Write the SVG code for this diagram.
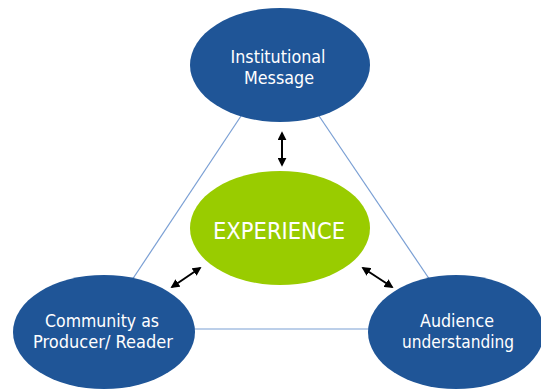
<svg xmlns="http://www.w3.org/2000/svg" width="541" height="389" viewBox="0 0 541 389">
<defs>
<style>
.node{fill:#1f5597;}
.core{fill:#99cc00;}
.lbl{font-family:"DejaVu Sans","Liberation Sans",sans-serif;font-size:18px;fill:#ffffff;text-anchor:middle;}
.big{font-size:23px;}
.tri{stroke:#7a9fd4;stroke-width:1.2;fill:none;}
.arr{stroke:#000;stroke-width:2;fill:none;marker-start:url(#ah);marker-end:url(#ah);}
</style>
<marker id="ah" viewBox="0 0 10 10" refX="8" refY="5" markerWidth="4.5" markerHeight="4.5" orient="auto-start-reverse" markerUnits="strokeWidth">
<path d="M0,0 L10,5 L0,10 z" fill="#000"/>
</marker>
</defs>
<rect width="541" height="389" fill="#ffffff"/>
<g id="connectors">
<line class="tri" x1="245" y1="110" x2="130" y2="283"/>
<line class="tri" x1="315" y1="110" x2="432" y2="283"/>
<line class="tri" x1="185" y1="329" x2="375" y2="329"/>
<line class="arr" x1="282" y1="133" x2="282" y2="165"/>
<line class="arr" x1="172" y1="287" x2="200" y2="268"/>
<line class="arr" x1="363" y1="268" x2="392" y2="287"/>
</g>
<g id="institutional">
<ellipse class="node" cx="280" cy="65" rx="90" ry="57"/>
<text class="lbl" x="278" y="63" textLength="95" lengthAdjust="spacingAndGlyphs">Institutional</text>
<text class="lbl" x="279" y="84" textLength="70" lengthAdjust="spacingAndGlyphs">Message</text>
</g>
<g id="experience">
<ellipse class="core" cx="280" cy="228" rx="90" ry="57"/>
<text class="lbl big" x="279" y="239" textLength="132" lengthAdjust="spacingAndGlyphs">EXPERIENCE</text>
</g>
<g id="community">
<ellipse class="node" cx="104" cy="332" rx="91" ry="57"/>
<text class="lbl" x="102" y="327" textLength="114" lengthAdjust="spacingAndGlyphs">Community as</text>
<text class="lbl" x="103" y="348" textLength="140" lengthAdjust="spacingAndGlyphs">Producer/ Reader</text>
</g>
<g id="audience">
<ellipse class="node" cx="456" cy="332" rx="88" ry="57"/>
<text class="lbl" x="457" y="327" textLength="74" lengthAdjust="spacingAndGlyphs">Audience</text>
<text class="lbl" x="458" y="348" textLength="112" lengthAdjust="spacingAndGlyphs">understanding</text>
</g>
</svg>
